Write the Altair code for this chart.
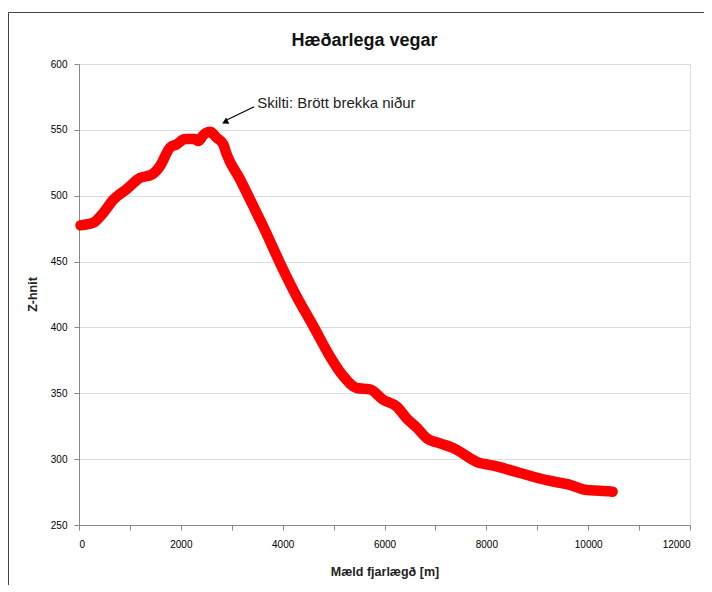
import altair as alt
import pandas as pd

# Road profile: measured distance [m] vs elevation (Z-hnit)
distance = [30, 280, 478, 675, 936, 1198, 1427, 1591, 1787, 1918, 2082, 2278, 2343,
            2441, 2573, 2704, 2835, 2900, 3162, 3424, 3650, 3947, 4275, 4602, 4929,
            5191, 5453, 5715, 5977, 6239, 6435, 6632, 6828, 7090, 7351, 7810, 8203,
            8660, 9184, 9642, 9970, 10232, 10480]
elevation = [477.5, 479.5, 487, 497, 505, 513.5, 516, 522.5, 536.5, 539, 543, 543, 541.5,
             546, 548.5, 544, 539, 531.5, 512.5, 492, 474, 449, 423.5, 401, 378,
             363, 354, 353, 345, 340, 331, 324, 316, 312, 308.5, 298, 294.5,
             289.5, 284, 280.5, 276.5, 276, 275.3]

x_ticks = list(range(0, 12001, 1000))
y_ticks = list(range(250, 601, 50))

annot_text = ["Skilti: Brött brekka niður"]
annot_x = [3500]
annot_y = [570.5]
arrow_x = [3440]
arrow_y = [567.5]
arrow_x2 = [2900]
arrow_y2 = [557.5]
head_x = [2867]
head_y = [555.9]

FONT = "Liberation Sans"

df = pd.DataFrame({"dist": distance, "z": elevation})

xscale = alt.Scale(domain=[0, 12000], nice=False)
yscale = alt.Scale(domain=[250, 600], nice=False)

line = alt.Chart(df).mark_line(
    color="#FF0000", strokeWidth=10.5, strokeCap="round", strokeJoin="round",
    interpolate="monotone"
).encode(
    x=alt.X("dist:Q", scale=xscale,
            axis=alt.Axis(values=x_ticks, format="d",
                          labelExpr="datum.value % 2000 == 0 ? datum.label : ''",
                          grid=False, labelPadding=9,
                          title="Mæld fjarlægð [m]",
                          titleFontWeight="bold", titleFontSize=12.5, titleFont=FONT,
                          titleColor="#222", titleY=46, titleBaseline="middle")),
    y=alt.Y("z:Q", scale=yscale,
            axis=alt.Axis(values=y_ticks, format="d", grid=True, labelPadding=7,
                          title="Z-hnit", titleFontWeight="bold", titleFontSize=12.5,
                          titleFont=FONT, titleColor="#222",
                          titleX=-47, titleY=230, titleAngle=-90,
                          titleAlign="center", titleBaseline="middle")),
)

adf = pd.DataFrame({"x": arrow_x, "y": arrow_y, "x2": arrow_x2, "y2": arrow_y2})
arrow = alt.Chart(adf).mark_rule(color="black", strokeWidth=1.2).encode(
    x=alt.X("x:Q", scale=xscale), y=alt.Y("y:Q", scale=yscale),
    x2="x2:Q", y2="y2:Q"
)

hdf = pd.DataFrame({"x": head_x, "y": head_y})
head = alt.Chart(hdf).mark_point(
    shape="triangle-up", filled=True, color="black", size=50, angle=243, opacity=1
).encode(x=alt.X("x:Q", scale=xscale), y=alt.Y("y:Q", scale=yscale))

tdf = pd.DataFrame({"x": annot_x, "y": annot_y, "t": annot_text})
text = alt.Chart(tdf).mark_text(
    align="left", baseline="middle", font=FONT, fontSize=15, color="#222"
).encode(x=alt.X("x:Q", scale=xscale), y=alt.Y("y:Q", scale=yscale), text="t:N")

frame_data = alt.Data(values=[{"k": 1}])
frame_left = alt.Chart(frame_data).mark_rule(color="#444", strokeWidth=1).encode(
    x=alt.value(-70.5), y=alt.value(-51.5), y2=alt.value(600)
)
frame_top = alt.Chart(frame_data).mark_rule(color="#444", strokeWidth=1).encode(
    x=alt.value(-70.5), x2=alt.value(700), y=alt.value(-51.5)
)

chart = alt.layer(line, arrow, head, text, frame_left, frame_top).properties(
    width=611, height=461,
    title=alt.TitleParams("Hæðarlega vegar", font=FONT, fontSize=18,
                          fontWeight="bold", color="#111", anchor="middle",
                          frame="group", dx=-20, dy=50, offset=12),
    autosize=alt.AutoSizeParams(type="none"),
    padding={"left": 71, "top": 56, "right": 14, "bottom": 60},
).configure_view(
    stroke="black", strokeWidth=1
).configure_axis(
    labelFont=FONT, labelFontSize=12.5, labelColor="#333",
    domainColor="black", tickColor="black", tickSize=5,
    gridColor="#8a8a8a", gridWidth=1
).configure(background="white")

chart.save("out.html", embed_options={"renderer": "svg", "actions": False})
